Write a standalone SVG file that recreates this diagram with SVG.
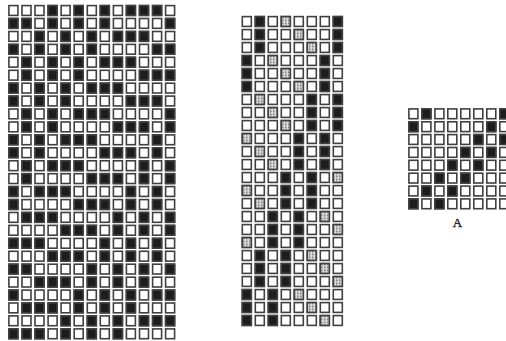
<svg xmlns="http://www.w3.org/2000/svg" width="506" height="341" viewBox="0 0 506 341">
<style>
.c,.d,.g{width:9px;height:9.8px;stroke:#404040;stroke-width:1.6px}
.c{fill:#fff}
.d{fill:#1d1d1d}
.g{fill:url(#st)}
.lbl{font-family:"Liberation Serif","Times New Roman",serif;font-size:13px;fill:#1d1d1d;stroke:#1d1d1d;stroke-width:0.35px}
</style>
<defs>
<pattern id="st" width="3" height="3" patternUnits="userSpaceOnUse"><rect width="3" height="3" fill="#dcdcdc"/><rect width="1.5" height="1.5" fill="#6a6a6a"/></pattern>
<g id="lrow"><rect class="c" x="8.9"/><rect class="c" x="22"/><rect class="c" x="35"/><rect class="c" x="48.1"/><rect class="c" x="61.1"/><rect class="c" x="74.2"/><rect class="c" x="87.3"/><rect class="c" x="100.3"/><rect class="c" x="113.4"/><rect class="c" x="126.4"/><rect class="c" x="139.5"/><rect class="c" x="152.6"/><rect class="c" x="165.6"/></g>
<g id="mrow"><rect class="c" x="242.3"/><rect class="c" x="255.3"/><rect class="c" x="268.3"/><rect class="c" x="281.3"/><rect class="c" x="294.3"/><rect class="c" x="307.3"/><rect class="c" x="320.3"/><rect class="c" x="333.3"/></g>
<g id="arow"><rect class="c" x="408.9"/><rect class="c" x="421.9"/><rect class="c" x="434.9"/><rect class="c" x="447.8"/><rect class="c" x="460.8"/><rect class="c" x="473.8"/><rect class="c" x="486.8"/><rect class="c" x="499.8"/></g>
</defs>
<rect x="0" y="0" width="506" height="341" fill="#fff"/>

<g id="left-grid">
<use href="#lrow" y="5.6"/><use href="#lrow" y="18.5"/><use href="#lrow" y="31.5"/><use href="#lrow" y="44.4"/><use href="#lrow" y="57.3"/><use href="#lrow" y="70.3"/><use href="#lrow" y="83.2"/><use href="#lrow" y="96.1"/><use href="#lrow" y="109"/><use href="#lrow" y="122"/><use href="#lrow" y="134.9"/><use href="#lrow" y="147.8"/><use href="#lrow" y="160.8"/><use href="#lrow" y="173.7"/><use href="#lrow" y="186.6"/><use href="#lrow" y="199.6"/><use href="#lrow" y="212.5"/><use href="#lrow" y="225.4"/><use href="#lrow" y="238.4"/><use href="#lrow" y="251.3"/><use href="#lrow" y="264.2"/><use href="#lrow" y="277.2"/><use href="#lrow" y="290.1"/><use href="#lrow" y="303"/><use href="#lrow" y="315.9"/><use href="#lrow" y="328.9"/>
<g transform="translate(0,5.6)"><rect class="d" x="48.1"/><rect class="d" x="74.2"/><rect class="d" x="100.3"/><rect class="d" x="126.4"/><rect class="d" x="139.5"/><rect class="d" x="152.6"/></g>
<g transform="translate(0,18.5)"><rect class="d" x="8.9"/><rect class="d" x="22"/><rect class="d" x="48.1"/><rect class="d" x="74.2"/><rect class="d" x="100.3"/><rect class="d" x="165.6"/></g>
<g transform="translate(0,31.5)"><rect class="d" x="35"/><rect class="d" x="61.1"/><rect class="d" x="87.3"/><rect class="d" x="113.4"/><rect class="d" x="126.4"/><rect class="d" x="139.5"/></g>
<g transform="translate(0,44.4)"><rect class="d" x="8.9"/><rect class="d" x="35"/><rect class="d" x="61.1"/><rect class="d" x="87.3"/><rect class="d" x="152.6"/><rect class="d" x="165.6"/></g>
<g transform="translate(0,57.3)"><rect class="d" x="22"/><rect class="d" x="48.1"/><rect class="d" x="74.2"/><rect class="d" x="100.3"/><rect class="d" x="113.4"/><rect class="d" x="126.4"/></g>
<g transform="translate(0,70.3)"><rect class="d" x="22"/><rect class="d" x="48.1"/><rect class="d" x="74.2"/><rect class="d" x="139.5"/><rect class="d" x="152.6"/><rect class="d" x="165.6"/></g>
<g transform="translate(0,83.2)"><rect class="d" x="8.9"/><rect class="d" x="35"/><rect class="d" x="61.1"/><rect class="d" x="87.3"/><rect class="d" x="100.3"/><rect class="d" x="113.4"/></g>
<g transform="translate(0,96.1)"><rect class="d" x="8.9"/><rect class="d" x="35"/><rect class="d" x="61.1"/><rect class="d" x="126.4"/><rect class="d" x="139.5"/><rect class="d" x="152.6"/></g>
<g transform="translate(0,109)"><rect class="d" x="22"/><rect class="d" x="48.1"/><rect class="d" x="74.2"/><rect class="d" x="87.3"/><rect class="d" x="100.3"/><rect class="d" x="165.6"/></g>
<g transform="translate(0,122)"><rect class="d" x="22"/><rect class="d" x="48.1"/><rect class="d" x="113.4"/><rect class="d" x="126.4"/><rect class="d" x="139.5"/><rect class="d" x="165.6"/></g>
<g transform="translate(0,134.9)"><rect class="d" x="8.9"/><rect class="d" x="35"/><rect class="d" x="61.1"/><rect class="d" x="74.2"/><rect class="d" x="87.3"/><rect class="d" x="152.6"/></g>
<g transform="translate(0,147.8)"><rect class="d" x="8.9"/><rect class="d" x="35"/><rect class="d" x="100.3"/><rect class="d" x="113.4"/><rect class="d" x="126.4"/><rect class="d" x="152.6"/></g>
<g transform="translate(0,160.8)"><rect class="d" x="22"/><rect class="d" x="48.1"/><rect class="d" x="61.1"/><rect class="d" x="74.2"/><rect class="d" x="139.5"/><rect class="d" x="165.6"/></g>
<g transform="translate(0,173.7)"><rect class="d" x="22"/><rect class="d" x="87.3"/><rect class="d" x="100.3"/><rect class="d" x="113.4"/><rect class="d" x="139.5"/><rect class="d" x="165.6"/></g>
<g transform="translate(0,186.6)"><rect class="d" x="8.9"/><rect class="d" x="35"/><rect class="d" x="48.1"/><rect class="d" x="61.1"/><rect class="d" x="126.4"/><rect class="d" x="152.6"/></g>
<g transform="translate(0,199.6)"><rect class="d" x="8.9"/><rect class="d" x="74.2"/><rect class="d" x="87.3"/><rect class="d" x="100.3"/><rect class="d" x="126.4"/><rect class="d" x="152.6"/></g>
<g transform="translate(0,212.5)"><rect class="d" x="22"/><rect class="d" x="35"/><rect class="d" x="48.1"/><rect class="d" x="113.4"/><rect class="d" x="139.5"/><rect class="d" x="165.6"/></g>
<g transform="translate(0,225.4)"><rect class="d" x="61.1"/><rect class="d" x="74.2"/><rect class="d" x="87.3"/><rect class="d" x="113.4"/><rect class="d" x="139.5"/><rect class="d" x="165.6"/></g>
<g transform="translate(0,238.4)"><rect class="d" x="8.9"/><rect class="d" x="22"/><rect class="d" x="35"/><rect class="d" x="100.3"/><rect class="d" x="126.4"/><rect class="d" x="152.6"/></g>
<g transform="translate(0,251.3)"><rect class="d" x="48.1"/><rect class="d" x="61.1"/><rect class="d" x="74.2"/><rect class="d" x="100.3"/><rect class="d" x="126.4"/><rect class="d" x="152.6"/></g>
<g transform="translate(0,264.2)"><rect class="d" x="8.9"/><rect class="d" x="22"/><rect class="d" x="87.3"/><rect class="d" x="113.4"/><rect class="d" x="139.5"/><rect class="d" x="165.6"/></g>
<g transform="translate(0,277.2)"><rect class="d" x="35"/><rect class="d" x="48.1"/><rect class="d" x="61.1"/><rect class="d" x="87.3"/><rect class="d" x="113.4"/><rect class="d" x="139.5"/></g>
<g transform="translate(0,290.1)"><rect class="d" x="8.9"/><rect class="d" x="74.2"/><rect class="d" x="100.3"/><rect class="d" x="126.4"/><rect class="d" x="152.6"/><rect class="d" x="165.6"/></g>
<g transform="translate(0,303)"><rect class="d" x="22"/><rect class="d" x="35"/><rect class="d" x="48.1"/><rect class="d" x="74.2"/><rect class="d" x="100.3"/><rect class="d" x="126.4"/></g>
<g transform="translate(0,315.9)"><rect class="d" x="61.1"/><rect class="d" x="87.3"/><rect class="d" x="113.4"/><rect class="d" x="139.5"/><rect class="d" x="152.6"/><rect class="d" x="165.6"/></g>
<g transform="translate(0,328.9)"><rect class="d" x="8.9"/><rect class="d" x="22"/><rect class="d" x="35"/><rect class="d" x="61.1"/><rect class="d" x="87.3"/><rect class="d" x="113.4"/></g>
</g>

<g id="middle-grid">
<use href="#mrow" y="16.6"/><use href="#mrow" y="29.6"/><use href="#mrow" y="42.6"/><use href="#mrow" y="55.6"/><use href="#mrow" y="68.6"/><use href="#mrow" y="81.6"/><use href="#mrow" y="94.6"/><use href="#mrow" y="107.6"/><use href="#mrow" y="120.6"/><use href="#mrow" y="133.6"/><use href="#mrow" y="146.6"/><use href="#mrow" y="159.6"/><use href="#mrow" y="172.6"/><use href="#mrow" y="185.6"/><use href="#mrow" y="198.6"/><use href="#mrow" y="211.6"/><use href="#mrow" y="224.6"/><use href="#mrow" y="237.6"/><use href="#mrow" y="250.6"/><use href="#mrow" y="263.6"/><use href="#mrow" y="276.6"/><use href="#mrow" y="289.6"/><use href="#mrow" y="302.6"/><use href="#mrow" y="315.6"/>
<g transform="translate(0,16.6)"><rect class="d" x="255.3"/><rect class="d" x="333.3"/><rect class="g" x="281.3"/></g>
<g transform="translate(0,29.6)"><rect class="d" x="255.3"/><rect class="d" x="333.3"/><rect class="g" x="294.3"/></g>
<g transform="translate(0,42.6)"><rect class="d" x="255.3"/><rect class="d" x="333.3"/><rect class="g" x="307.3"/></g>
<g transform="translate(0,55.6)"><rect class="d" x="242.3"/><rect class="d" x="320.3"/><rect class="g" x="268.3"/></g>
<g transform="translate(0,68.6)"><rect class="d" x="242.3"/><rect class="d" x="320.3"/><rect class="g" x="281.3"/></g>
<g transform="translate(0,81.6)"><rect class="d" x="242.3"/><rect class="d" x="320.3"/><rect class="g" x="294.3"/></g>
<g transform="translate(0,94.6)"><rect class="d" x="307.3"/><rect class="d" x="333.3"/><rect class="g" x="255.3"/></g>
<g transform="translate(0,107.6)"><rect class="d" x="307.3"/><rect class="d" x="333.3"/><rect class="g" x="268.3"/></g>
<g transform="translate(0,120.6)"><rect class="d" x="307.3"/><rect class="d" x="333.3"/><rect class="g" x="281.3"/></g>
<g transform="translate(0,133.6)"><rect class="d" x="294.3"/><rect class="d" x="320.3"/><rect class="g" x="242.3"/></g>
<g transform="translate(0,146.6)"><rect class="d" x="294.3"/><rect class="d" x="320.3"/><rect class="g" x="255.3"/></g>
<g transform="translate(0,159.6)"><rect class="d" x="294.3"/><rect class="d" x="320.3"/><rect class="g" x="268.3"/></g>
<g transform="translate(0,172.6)"><rect class="d" x="281.3"/><rect class="d" x="307.3"/><rect class="g" x="333.3"/></g>
<g transform="translate(0,185.6)"><rect class="d" x="281.3"/><rect class="d" x="307.3"/><rect class="g" x="242.3"/></g>
<g transform="translate(0,198.6)"><rect class="d" x="281.3"/><rect class="d" x="307.3"/><rect class="g" x="255.3"/></g>
<g transform="translate(0,211.6)"><rect class="d" x="268.3"/><rect class="d" x="294.3"/><rect class="g" x="320.3"/></g>
<g transform="translate(0,224.6)"><rect class="d" x="268.3"/><rect class="d" x="294.3"/><rect class="g" x="333.3"/></g>
<g transform="translate(0,237.6)"><rect class="d" x="268.3"/><rect class="d" x="294.3"/><rect class="g" x="242.3"/></g>
<g transform="translate(0,250.6)"><rect class="d" x="255.3"/><rect class="d" x="281.3"/><rect class="g" x="307.3"/></g>
<g transform="translate(0,263.6)"><rect class="d" x="255.3"/><rect class="d" x="281.3"/><rect class="g" x="320.3"/></g>
<g transform="translate(0,276.6)"><rect class="d" x="255.3"/><rect class="d" x="281.3"/><rect class="g" x="333.3"/></g>
<g transform="translate(0,289.6)"><rect class="d" x="242.3"/><rect class="d" x="268.3"/><rect class="g" x="294.3"/></g>
<g transform="translate(0,302.6)"><rect class="d" x="242.3"/><rect class="d" x="268.3"/><rect class="g" x="307.3"/></g>
<g transform="translate(0,315.6)"><rect class="d" x="242.3"/><rect class="d" x="268.3"/><rect class="g" x="320.3"/></g>
</g>

<g id="grid-A">
<use href="#arow" y="108.9"/><use href="#arow" y="121.8"/><use href="#arow" y="134.6"/><use href="#arow" y="147.5"/><use href="#arow" y="160.3"/><use href="#arow" y="173.2"/><use href="#arow" y="186.1"/><use href="#arow" y="198.9"/>
<g transform="translate(0,108.9)"><rect class="d" x="421.9"/><rect class="d" x="499.8"/></g>
<g transform="translate(0,121.8)"><rect class="d" x="408.9"/><rect class="d" x="486.8"/></g>
<g transform="translate(0,134.6)"><rect class="d" x="473.8"/><rect class="d" x="499.8"/></g>
<g transform="translate(0,147.5)"><rect class="d" x="460.8"/><rect class="d" x="486.8"/></g>
<g transform="translate(0,160.3)"><rect class="d" x="447.8"/><rect class="d" x="473.8"/></g>
<g transform="translate(0,173.2)"><rect class="d" x="434.9"/><rect class="d" x="460.8"/></g>
<g transform="translate(0,186.1)"><rect class="d" x="421.9"/><rect class="d" x="447.8"/></g>
<g transform="translate(0,198.9)"><rect class="d" x="408.9"/><rect class="d" x="434.9"/></g>
<text class="lbl" x="457.5" y="227" text-anchor="middle">A</text>
</g>
</svg>
